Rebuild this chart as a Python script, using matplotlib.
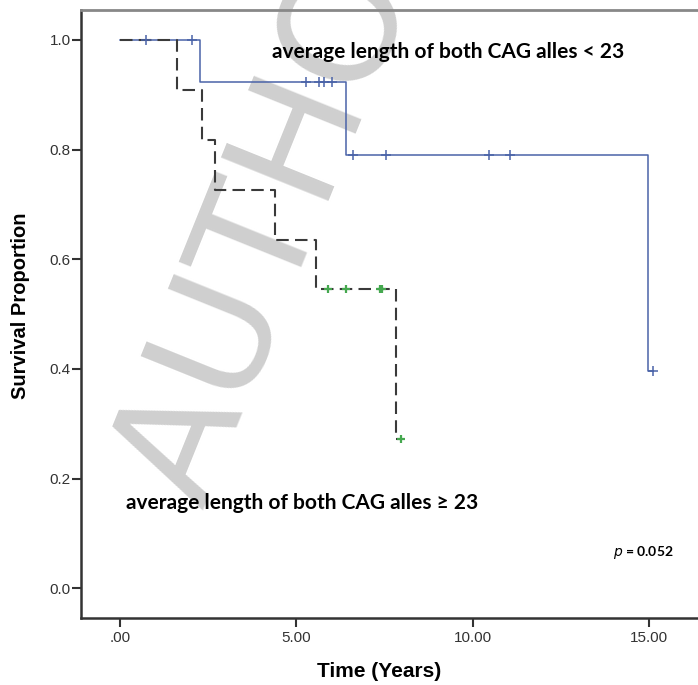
import numpy as np
import matplotlib
matplotlib.use("Agg")
import matplotlib.pyplot as plt

# group with average CAG length < 23 (blue, solid)
low_times = [0.0, 2.28, 6.42, 14.97]
low_surv = [1.0, 0.923, 0.791, 0.396]
low_end = 15.11
low_censor = [0.73, 2.05, 5.28, 5.64, 5.78, 6.0, 6.6, 7.53, 10.45, 11.05, 15.11]

# group with average CAG length >= 23 (black dashed, green censors)
high_times = [0.0, 1.62, 2.32, 2.7, 4.4, 5.57, 7.84]
high_surv = [1.0, 0.909, 0.818, 0.727, 0.636, 0.545, 0.273]
high_end = 7.98
high_censor = [5.9, 6.42, 7.37, 7.44, 7.98]

xticks = [0, 5, 10, 15]
xtick_labels = [".00", "5.00", "10.00", "15.00"]
yticks = [0.0, 0.2, 0.4, 0.6, 0.8, 1.0]


def surv_at(times, surv, t):
    idx = np.searchsorted(times, t, side="right") - 1
    return np.array(surv)[idx]


def main():
    fig = plt.figure(figsize=(6.98, 6.85), dpi=100)
    ax = fig.add_axes([0.116, 0.0974, 0.884, 0.888])

    # watermark
    ax.text(0.29, 0.255, "AUTHOR", transform=fig.transFigure, fontsize=114,
            family="DejaVu Sans", color="#cfcfcf", rotation=68,
            rotation_mode="anchor", ha="left", va="baseline", zorder=0.5)

    ax.step(low_times + [low_end], low_surv + [low_surv[-1]], where="post",
            color="#4a63a8", lw=1.1, zorder=3)
    ax.step(high_times + [high_end], high_surv + [high_surv[-1]], where="post",
            color="#3a3a3a", lw=1.5, dashes=(6, 3), zorder=3)

    ax.plot(low_censor, surv_at(low_times, low_surv, low_censor), ls="none",
            marker="+", ms=7, mew=1.1, color="#4a63a8", zorder=4)
    ax.plot(high_censor, surv_at(high_times, high_surv, high_censor), ls="none",
            marker="+", ms=6, mew=1.6, color="#45a84f", zorder=4)

    ax.text(4.32, 0.978, "average length of both CAG alles < 23", family="Lato",
            fontweight="bold", fontsize=15, va="center", ha="left", zorder=5)
    ax.text(0.17, 0.155, "average length of both CAG alles \u2265 23", family="Lato",
            fontweight="bold", fontsize=15, va="center", ha="left", zorder=5)
    ax.text(13.98, 0.066, r"$\bf{\it{p}}$ = 0.052", family="Lato",
            fontweight="bold", fontsize=10, va="center", ha="left", zorder=5)

    ax.set_xlim(-1.106, 16.39)
    ax.set_ylim(-0.0547, 1.0547)
    ax.set_xticks(xticks)
    ax.set_xticklabels(xtick_labels)
    ax.set_yticks(yticks)
    ax.set_yticklabels([f"{v:.1f}" for v in yticks])
    ax.tick_params(axis="x", length=6.5, width=1.5, color="#333333", pad=3,
                   labelsize=11, labelcolor="#333333")
    ax.tick_params(axis="y", length=6.5, width=1.5, color="#333333", pad=1,
                   labelsize=11, labelcolor="#333333")
    for lab in ax.get_xticklabels() + ax.get_yticklabels():
        lab.set_family("Liberation Sans")

    for side in ["left", "bottom"]:
        ax.spines[side].set_color("#333333")
        ax.spines[side].set_linewidth(1.8)
    ax.spines["top"].set_color("#888888")
    ax.spines["top"].set_linewidth(2)
    ax.spines["right"].set_visible(False)

    ax.set_ylabel("Survival Proportion", family="Liberation Sans",
                  fontweight="bold", fontsize=14.5, va="center")
    ax.yaxis.set_label_coords(-0.0977, 0.514)
    ax.set_xlabel("Time (Years)", family=["Liberation Sans Narrow", "Liberation Sans"],
                  fontweight="bold", fontsize=15, va="center")
    ax.xaxis.set_label_coords(0.483, -0.0883)

    fig.savefig("out.png", dpi=100)


if __name__ == "__main__":
    main()
